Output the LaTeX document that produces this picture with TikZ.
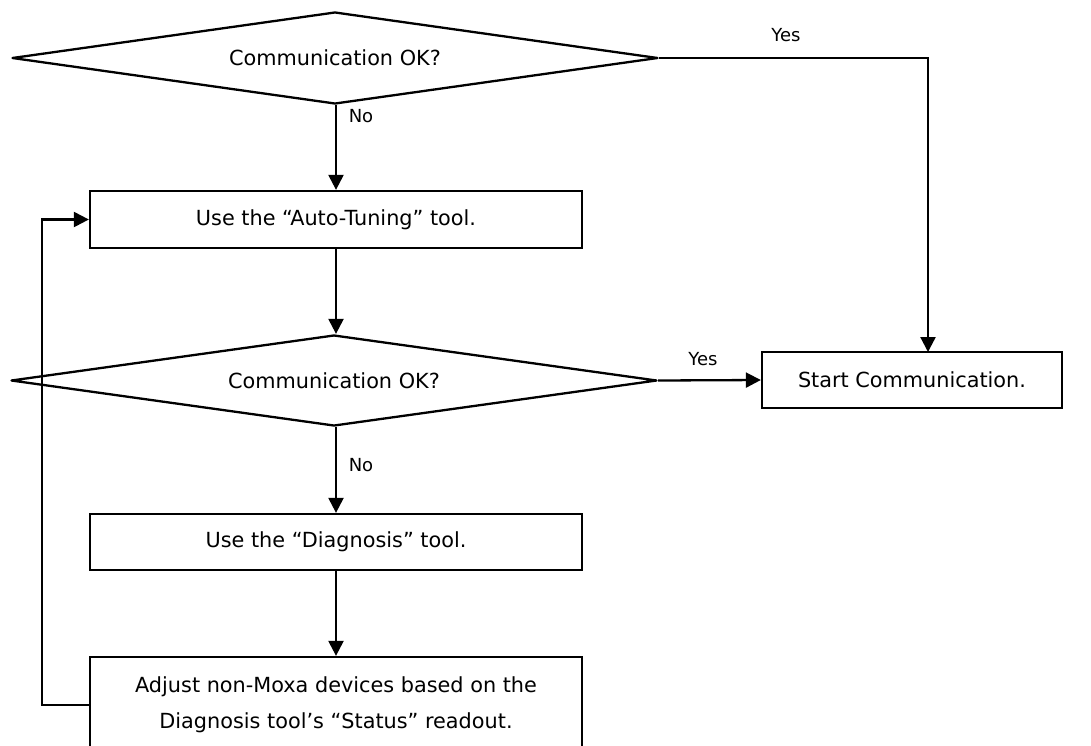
\documentclass[tikz,border=0pt]{standalone}
\usepackage{fontspec}
\setmainfont{DejaVu Sans}
\usetikzlibrary{shapes.geometric,arrows.meta}
\begin{document}
\begin{tikzpicture}[x=1pt,y=-1pt,
  every node/.style={font=\fontsize{20.8}{36}\selectfont},
  proc/.style={draw,line width=2.3pt,rectangle,minimum width=492pt,minimum height=57pt,inner sep=0pt,align=center},
  dec/.style={draw,line width=2.3pt,line join=round,diamond,aspect=7.02,minimum width=646pt,minimum height=92pt,inner sep=0pt},
  conn/.style={line width=2.3pt,-{Triangle[length=15pt,width=15pt]}},
  lbl/.style={font=\fontsize{18}{20}\selectfont,inner sep=0pt},
]
\useasboundingbox (0,0) rectangle (1091,745);
\clip (0,0) rectangle (1091,745);

\node[dec] (d1) at (335,58) {Communication OK?};
\node[proc] (b1) at (336,219.5) {Use the “Auto-Tuning” tool.};
\node[dec, minimum height=91pt] (d2) at (334,380.5) {Communication OK?};
\node[proc, minimum width=300pt, minimum height=56pt] (s) at (912,380) {Start Communication.};
\node[proc, minimum height=56pt] (b2) at (336,542) {Use the “Diagnosis” tool.};
\node[proc, minimum height=96pt] (b3) at (336,705) {Adjust non-Moxa devices based on the\\Diagnosis tool’s “Status” readout.};

\coordinate (sin) at (928,352);
\coordinate (loop) at (42,705);

\draw[conn] (d1.south -| b1.north) -- (b1.north);
\draw[conn] (b1.south) -- (b1.south |- d2.north);
\draw[conn] (d1.east) -| (sin);
\draw[conn] (d2.east) -- (s.west);
\draw[conn] (d2.south -| b2.north) -- (b2.north);
\draw[conn] (b2.south) -- (b3.north);
\draw[conn] (b3.west) -- (loop) |- (b1.west);

\node[lbl] (no1) at (361,116) {No};
\node[lbl] (no2) at (361,465) {No};
\node[lbl] (yes1) at (786,35) {Yes};
\node[lbl] (yes2) at (703,359) {Yes};
\end{tikzpicture}
\end{document}
